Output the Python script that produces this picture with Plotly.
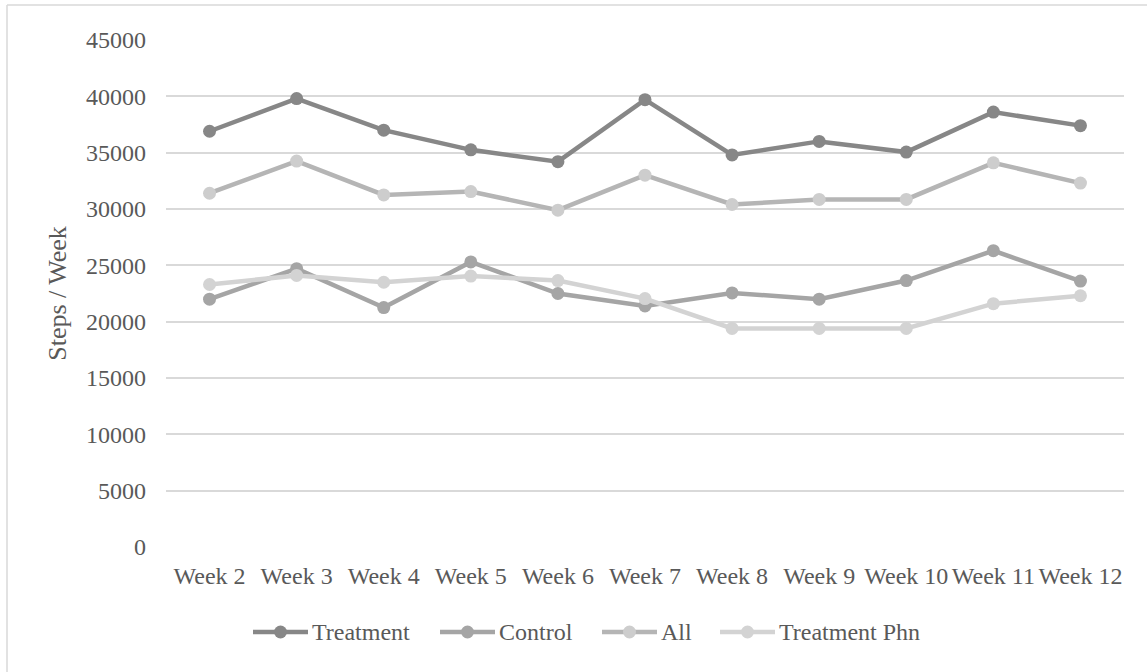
import plotly.graph_objects as go

weeks = ["Week 2", "Week 3", "Week 4", "Week 5", "Week 6", "Week 7",
         "Week 8", "Week 9", "Week 10", "Week 11", "Week 12"]

treatment = [36900, 39800, 37000, 35250, 34200, 39700, 34800, 36000, 35050, 38600, 37400]
control = [22000, 24700, 21250, 25300, 22500, 21400, 22550, 22000, 23650, 26300, 23600]
all_participants = [31400, 34250, 31250, 31550, 29900, 33000, 30400, 30850, 30850, 34100, 32300]
treatment_phn = [23300, 24100, 23500, 24050, 23650, 22050, 19400, 19400, 19400, 21600, 22300]

series = [
    ("Treatment", treatment, "#878787", "#878787"),
    ("Control", control, "#a5a5a5", "#a5a5a5"),
    ("All", all_participants, "#b5b5b5", "#cdcdcd"),
    ("Treatment Phn", treatment_phn, "#d3d3d3", "#d3d3d3"),
]

FONT = "Liberation Serif, Times New Roman, serif"
TEXT = "#595959"
W, H = 1147, 672
ML, MR, MT, MB = 166, 23, 40, 125
PW, PH = W - ML - MR, H - MT - MB


def px_x(px):
    return (px - ML) / PW


def px_y(py):
    return (H - MB - py) / PH


fig = go.Figure()
for name, vals, line_c, marker_c in series:
    fig.add_trace(go.Scatter(
        x=weeks, y=vals, name=name, mode="lines+markers",
        line=dict(color=line_c, width=4.5),
        marker=dict(color=marker_c, size=13),
        showlegend=False,
    ))

# Legend row drawn beneath the axis: long line sample with a dot, then the label
shapes = []
annotations = []
legend_y = 632
legend_x = [253, 440, 602, 720]
for (name, _, line_c, marker_c), x0 in zip(series, legend_x):
    shapes.append(dict(type="line", xref="paper", yref="paper",
                       x0=px_x(x0), x1=px_x(x0 + 55), y0=px_y(legend_y), y1=px_y(legend_y),
                       line=dict(color=line_c, width=4.5)))
    shapes.append(dict(type="circle", xref="paper", yref="paper",
                       x0=px_x(x0 + 27.5 - 6.5), x1=px_x(x0 + 27.5 + 6.5),
                       y0=px_y(legend_y + 6.5), y1=px_y(legend_y - 6.5),
                       line=dict(width=0), fillcolor=marker_c))
    annotations.append(dict(xref="paper", yref="paper", x=px_x(x0 + 57), y=px_y(legend_y),
                            xanchor="left", yanchor="middle", showarrow=False, text=name,
                            font=dict(family=FONT, size=24, color=TEXT)))

# Chart-area frame (top and left edges)
shapes.append(dict(type="line", xref="paper", yref="paper", x0=px_x(7), x1=px_x(W), y0=px_y(5), y1=px_y(5),
                   line=dict(color="#d9d9d9", width=1.5)))
shapes.append(dict(type="line", xref="paper", yref="paper", x0=px_x(7), x1=px_x(7), y0=px_y(5), y1=px_y(H),
                   line=dict(color="#d9d9d9", width=1.5)))

fig.update_layout(
    width=W, height=H,
    margin=dict(l=ML, r=MR, t=MT, b=MB),
    paper_bgcolor="white", plot_bgcolor="white",
    font=dict(family=FONT, color=TEXT, size=24),
    showlegend=False,
    xaxis=dict(
        type="category", range=[-0.5, 10.5], tickangle=0,
        showgrid=False, zeroline=False, showline=False, ticks="",
        tickfont=dict(family=FONT, size=24, color=TEXT),
        ticklabelstandoff=12,
    ),
    yaxis=dict(
        range=[0, 45000], dtick=5000, tickformat="d",
        showgrid=True, gridcolor="#d9d9d9", gridwidth=1.5,
        zeroline=False, showline=False, ticks="",
        tickfont=dict(family=FONT, size=24, color=TEXT),
        ticklabelstandoff=19,
        title=dict(text="Steps / Week", font=dict(family=FONT, size=26, color=TEXT), standoff=11),
    ),
    shapes=shapes,
    annotations=annotations,
)

fig.write_html("out.html")
